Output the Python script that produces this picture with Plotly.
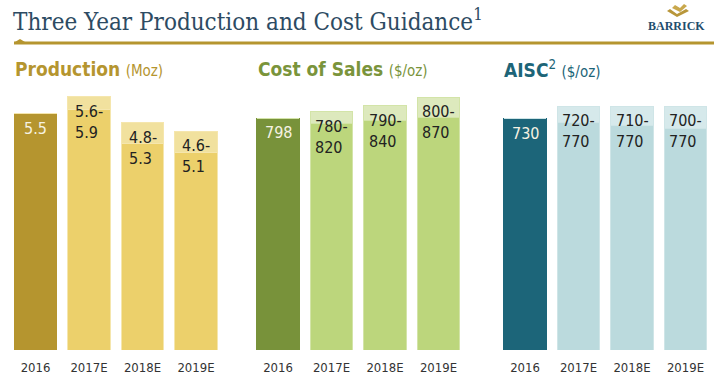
import plotly.graph_objects as go

W, H = 714, 382

years = ["2016", "2017E", "2018E", "2019E"]
pos = [0, 1, 2, 3]

prod_low = [5.5, 5.6, 4.8, 4.6]
prod_high = [5.5, 5.9, 5.3, 5.1]
prod_labels = ["5.5", "5.6-<br>5.9", "4.8-<br>5.3", "4.6-<br>5.1"]

cost_low = [798, 780, 790, 800]
cost_high = [798, 820, 840, 870]
cost_labels = ["798", "780-<br>820", "790-<br>840", "800-<br>870"]

aisc_low = [730, 720, 710, 700]
aisc_high = [730, 770, 770, 770]
aisc_labels = ["730", "720-<br>770", "710-<br>770", "700-<br>770"]

FONT = "DejaVu Sans Condensed, Liberation Sans Narrow, DejaVu Sans, sans-serif"

panels = [
    dict(low=prod_low, high=prod_high, labels=prod_labels, ymax=6.29,
         dark="#b5952f", mid="#ecd06b", light="#f1e19e", edge="#f5e6ad",
         title="<b>Production</b> <span style='font-size:15px'>(Moz)</span>",
         tcolor="#b5952f", x0=8.75, tx=13),
    dict(low=cost_low, high=cost_high, labels=cost_labels, ymax=929,
         dark="#78923a", mid="#bcd67c", light="#dde9bd", edge="#d3e4a8",
         title="<b>Cost of Sales</b> <span style='font-size:15px'>($/oz)</span>",
         tcolor="#7a943b", x0=251.25, tx=256),
    dict(low=aisc_low, high=aisc_high, labels=aisc_labels, ymax=853,
         dark="#1c6579", mid="#bbdadd", light="#d6e9eb", edge="#cfe5e7",
         title="<b>AISC</b><sup>2</sup> <span style='font-size:15px'>($/oz)</span>",
         tcolor="#1d6578", x0=498.25, tx=502),
]

fig = go.Figure()
ybot = 1 - 350 / H
ytop = 1 - 80 / H
annotations = []
layout_axes = {}

for i, p in enumerate(panels):
    n = "" if i == 0 else str(i + 1)
    xa, ya = "x" + n, "y" + n
    low_colors = [p["dark"]] + [p["mid"]] * 3
    line_colors = [p["dark"]] + [p["edge"]] * 3
    rng = [h - l for h, l in zip(p["high"], p["low"])]
    fig.add_trace(go.Bar(x=pos, y=p["low"], xaxis=xa, yaxis=ya, width=0.794,
                         marker=dict(color=low_colors, line=dict(color=line_colors, width=1)),
                         showlegend=False, hoverinfo="skip"))
    fig.add_trace(go.Bar(x=pos, y=rng, xaxis=xa, yaxis=ya, width=0.794,
                         marker=dict(color=p["light"], line=dict(color=p["edge"], width=1)),
                         showlegend=False, hoverinfo="skip"))
    layout_axes["xaxis" + n] = dict(domain=[p["x0"] / W, (p["x0"] + 214) / W],
                                    anchor=ya, range=[-0.5, 3.5],
                                    tickmode="array", tickvals=pos, ticktext=years,
                                    showgrid=False, zeroline=False,
                                    showline=False, ticks="outside", ticklen=5,
                                    tickcolor="rgba(0,0,0,0)",
                                    tickfont=dict(family=FONT, size=13, color="#333333"))
    layout_axes["yaxis" + n] = dict(domain=[ybot, ytop], anchor=xa, range=[0, p["ymax"]],
                                    showgrid=False, zeroline=False, showline=False,
                                    showticklabels=False)
    for j, lab in enumerate(p["labels"]):
        annotations.append(dict(x=pos[j], y=p["high"][j], xref=xa, yref=ya, text=lab,
                                showarrow=False, yanchor="top", xanchor="center", align="left",
                                yshift=-3,
                                font=dict(family=FONT, size=16,
                                          color="#f6f2e2" if j == 0 else "#222222")))
    annotations.append(dict(x=p["tx"] / W, y=1 - 69 / H, xref="paper", yref="paper",
                            text=p["title"], showarrow=False, xanchor="left", yanchor="middle",
                            font=dict(family=FONT, size=19, color=p["tcolor"])))

annotations.append(dict(x=11 / W, y=1 - 20 / H, xref="paper", yref="paper",
                        text="Three Year Production and Cost Guidance<sup>1</sup>",
                        showarrow=False, xanchor="left", yanchor="middle",
                        font=dict(family="DejaVu Serif Condensed, Liberation Serif, serif",
                                  size=24, color="#2d4b63")))
annotations.append(dict(x=707 / W, y=1 - 26 / H, xref="paper", yref="paper",
                        text="<b>BARRICK</b>", showarrow=False, xanchor="right",
                        yanchor="middle",
                        font=dict(family="Liberation Serif, serif", size=12, color="#1f4e6e")))

shapes = [
    dict(type="line", xref="paper", yref="paper", x0=14 / W, x1=1, y0=1 - 43 / H, y1=1 - 43 / H,
         line=dict(color="#b5952f", width=3)),
    dict(type="path", xref="paper", yref="paper",
         path=f"M {15/W} {1-42/H} L {20/W} {1-39/H} L {25/W} {1-42/H} Z",
         fillcolor="#b5952f", line=dict(width=0)),
    dict(type="path", xref="paper", yref="paper",
         path=(f"M {667/W} {1-11/H} L {677/W} {1-17/H} L {689/W} {1-11/H} L {686/W} {1-9/H} "
               f"L {677/W} {1-14/H} L {670/W} {1-9/H} Z"),
         fillcolor="#b8963a", line=dict(width=0)),
    dict(type="path", xref="paper", yref="paper",
         path=(f"M {672/W} {1-8/H} L {680/W} {1-12/H} L {687/W} {1-6/H} L {684/W} {1-4/H} "
               f"L {680/W} {1-8/H} L {675/W} {1-5/H} Z"),
         fillcolor="#c9a84c", line=dict(width=0)),
]

fig.update_layout(width=W, height=H, margin=dict(l=0, r=0, t=0, b=0),
                  paper_bgcolor="white", plot_bgcolor="white",
                  barmode="stack", annotations=annotations, shapes=shapes,
                  **layout_axes)

fig.write_html("out.html", config={"displayModeBar": False},
               post_script="document.body.style.margin='0';")
